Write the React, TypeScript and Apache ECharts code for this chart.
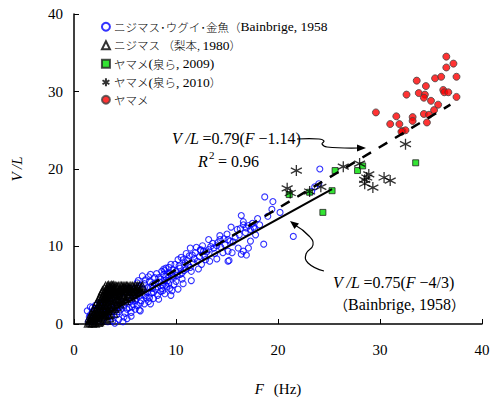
import React, { useEffect, useRef } from "react";
import * as echarts from "echarts";

const xTicks = [0, 10, 20, 30, 40];
const yTicks = [0, 10, 20, 30, 40];

const legendNames = [
  "ニジマス･ウグイ･金魚（Bainbrige, 1958",
  "ニジマス （梨本, 1980）",
  "ヤマメ(泉ら, 2009)",
  "ヤマメ(泉ら, 2010）",
  "ヤマメ",
];
const legendRich = [
  "{c|ニジマス･ウグイ･金魚（}{l|Bainbrige, 1958}",
  "{c|ニジマス （梨本, }{l|1980}{c|）}",
  "{c|ヤマメ}{l|(}{c|泉ら}{l|, 2009)}",
  "{c|ヤマメ}{l|(}{c|泉ら}{l|, 2010}{c|）}",
  "{c|ヤマメ}",
];

const bainbrige: number[][] = [
  [1.3, 1.7], [1.5, 0.9], [1.4, 0.3], [1.6, 1.2], [1.7, 0.5], [1.8, 1.6], [1.9, 0.8], [2.0, 1.9], [2.0, 0.3], [1.6, 2.2],
  [2.1, 1.2], [2.2, 0.6], [2.3, 2.0], [2.4, 1.5], [2.5, 0.9], [2.6, 2.4], [2.7, 1.8], [2.8, 0.4], [2.9, 1.2], [2.5, 2.8], [2.2, 1.9], [2.8, 2.6], [3.0, 0.8],
  [3.1, 1.9], [3.2, 2.6], [3.3, 0.3], [3.4, 1.4], [3.5, 3.1], [3.6, 2.2], [3.7, 0.9], [3.8, 1.7], [3.9, 2.8], [4.0, 0.1], [3.3, 3.3], [3.6, 1.1], [3.9, 3.5], [3.2, 1.0], [3.8, 0.4],
  [4.1, 2.3], [4.2, 1.2], [4.3, 3.0], [4.4, 0.6], [4.5, 3.7], [4.6, 1.9], [4.7, 2.6], [4.8, 0.3], [4.9, 3.3], [5.0, 1.4], [4.2, 3.9], [4.5, 2.2], [4.7, 4.1], [4.9, 0.9], [4.4, 1.6],
  [5.1, 2.8], [5.2, 0.7], [5.3, 3.6], [5.4, 2.1], [5.5, 4.3], [5.6, 1.5], [5.7, 3.1], [5.8, 2.5], [5.9, 4.0], [6.0, 1.9], [5.3, 4.6], [5.5, 2.9], [5.8, 3.6], [6.0, 4.6], [5.6, 1.0],
  [6.1, 3.3], [6.2, 2.4], [6.3, 4.2], [6.4, 1.8], [6.5, 5.0], [6.6, 3.0], [6.7, 6.2], [6.8, 3.8], [6.9, 2.6], [7.0, 5.7], [6.2, 5.3], [6.5, 1.7], [6.7, 4.5], [6.9, 5.2], [6.4, 3.6],
  [7.1, 3.4], [7.2, 4.7], [7.3, 2.9], [7.4, 5.5], [7.5, 6.4], [7.5, 2.6], [7.6, 4.0], [7.7, 5.1], [7.8, 3.3], [7.9, 6.0], [8.0, 4.5], [7.3, 6.1], [7.8, 4.1], [7.5, 4.7],
  [8.1, 6.5], [8.2, 3.7], [8.3, 6.0], [8.4, 5.4], [8.5, 4.2], [8.6, 6.8], [8.7, 5.0], [8.8, 7.1], [8.9, 3.9], [9.0, 6.1], [8.3, 3.2], [8.6, 4.6], [8.9, 5.6], [8.8, 6.4],
  [9.1, 4.8], [9.2, 5.6], [9.3, 7.3], [9.4, 6.6], [9.5, 3.7], [9.5, 7.7], [9.6, 4.3], [9.7, 6.2], [9.8, 5.1], [9.9, 7.7], [10.0, 6.8], [9.3, 5.2], [9.7, 7.0], [10.0, 5.5],
  [10.2, 4.5], [10.6, 5.8], [10.7, 5.2], [11.0, 9.1], [10.7, 8.3], [8.9, 6.9], [11.5, 6.8], [11.5, 5.6], [10.4, 6.4],
  [11.0, 7.1], [12.2, 7.1], [11.7, 7.9], [12.8, 8.8], [14.6, 9.2], [15.3, 10.7],
  [12.4, 9.5], [13.7, 9.8], [14.0, 8.4], [13.3, 8.1], [12.5, 7.7], [13.2, 10.9], [14.1, 10.5], [15.1, 9.4], [15.2, 8.2], [16.1, 9.8], [16.6, 9.4], [16.9, 8.9],
  [15.4, 12.5], [16.3, 12.3], [16.9, 12.4], [17.1, 12.7], [16.6, 12.8], [16.4, 14.0], [16.6, 13.2], [17.7, 12.3], [17.3, 10.7], [17.1, 9.8], [16.4, 9.0],
  [15.1, 10.9], [15.5, 9.2], [14.3, 10.9], [12.4, 9.6], [11.4, 9.8], [15.1, 8.1],
  [10.3, 7.5], [10.5, 8.6], [10.8, 6.9], [11.2, 7.6], [11.3, 8.8], [11.8, 8.4], [12.0, 9.9], [12.6, 10.1], [13.0, 9.3], [13.6, 10.4], [14.3, 11.4], [14.8, 10.2], [15.8, 11.2], [16.0, 12.2], [17.5, 13.0], [18.2, 12.8], [17.8, 11.5],
  [18.7, 16.4], [19.5, 15.8], [19.4, 14.8], [20.2, 14.4], [21.5, 11.3], [18.6, 10.3],
  [24.1, 20.0], [24.0, 18.1], [23.6, 17.7], [23.3, 17.1],
  [2.3, 0.9], [2.6, 1.4], [3.0, 1.4], [3.4, 2.0], [3.7, 2.6], [4.0, 1.6], [4.3, 2.1], [4.6, 2.9], [4.9, 2.3], [5.2, 1.9], [5.4, 3.3], [5.7, 2.2],
  [6.0, 3.0], [6.2, 3.8], [6.5, 2.7], [6.8, 4.5], [7.0, 3.7], [7.2, 4.1], [7.4, 3.4], [7.7, 4.6], [8.0, 5.3], [8.2, 4.8], [8.5, 5.8], [8.7, 4.3],
  [9.0, 5.0], [9.2, 6.4], [9.4, 4.6], [9.8, 6.0], [10.1, 6.3], [10.4, 7.2], [10.6, 6.6], [10.9, 7.9], [11.1, 8.2], [11.4, 7.3], [11.6, 8.9], [11.9, 9.2],
  [12.1, 8.1], [12.3, 8.7], [12.7, 9.4], [12.9, 8.3], [13.2, 9.6], [13.4, 10.0], [13.8, 9.1], [14.0, 10.1], [14.4, 9.9], [14.7, 11.0], [15.0, 11.6],
  [15.6, 10.6], [16.2, 11.5], [16.8, 11.8], [17.3, 12.2], [17.6, 12.5], [18.0, 13.6], [19.0, 13.9], [9.0, 7.2], [10.2, 8.3], [6.3, 5.6], [5.6, 4.6],
  [4.0, 3.8], [3.5, 3.6], [2.9, 2.9], [2.1, 2.4], [1.8, 2.1],
];

const nashimoto: number[][] = [
  [1.4, 0.1], [1.5, 0.4], [1.6, 0.2], [1.7, 0.7], [1.8, 0.4], [1.8, 1.0], [1.9, 0.2], [2.0, 1.3], [2.0, 0.6], [2.1, 1.7], [2.1, 0.9], [2.2, 0.4], [2.2, 1.4],
  [2.3, 2.0], [2.3, 1.0], [2.4, 2.5], [2.4, 1.6], [2.4, 0.8], [2.5, 2.2], [2.5, 1.3], [2.6, 2.9], [2.6, 1.9], [2.6, 0.9], [2.7, 3.2], [2.7, 2.4], [2.7, 1.4],
  [2.8, 3.5], [2.8, 2.7], [2.8, 1.8], [2.9, 3.9], [2.9, 3.0], [2.9, 2.1], [2.9, 1.2], [3.0, 4.1], [3.0, 3.3], [3.0, 2.5], [3.0, 1.6], [3.1, 3.7], [3.1, 2.9],
  [3.1, 2.0], [3.2, 4.4], [3.2, 3.5], [3.2, 2.4], [3.3, 4.0], [3.3, 3.1], [3.3, 1.8], [3.4, 4.7], [3.4, 3.8], [3.4, 2.7], [3.5, 4.3], [3.5, 3.4], [3.5, 2.2],
  [3.6, 4.9], [3.6, 4.0], [3.6, 3.0], [3.7, 4.6], [3.7, 3.6], [3.7, 2.5], [3.8, 4.9], [3.8, 4.2], [3.8, 3.2], [3.9, 4.6], [3.9, 3.8], [3.9, 2.7],
  [4.1, 4.9], [4.0, 4.4], [4.0, 3.4], [4.1, 4.0], [4.2, 4.5], [4.2, 3.3], [4.3, 4.8], [4.3, 3.9], [4.6, 4.9], [4.4, 4.3], [4.5, 3.7], [4.6, 4.4],
  [4.7, 4.6], [4.7, 3.9], [5.2, 4.9], [4.8, 4.3], [4.9, 4.7], [5.0, 4.1], [5.1, 4.6], [5.3, 4.4], [5.7, 4.9], [5.4, 3.9], [5.5, 4.6], [5.7, 4.3],
  [6.2, 4.9], [5.9, 4.6], [6.1, 4.5], [6.7, 4.9], [5.6, 3.5], [5.0, 3.0], [4.5, 2.6], [4.0, 2.0], [3.5, 1.2], [3.0, 0.7], [2.5, 0.3], [3.3, 4.9],
  [1.5, 0.8], [1.7, 1.3], [1.9, 1.6], [2.0, 2.1], [2.2, 2.6], [2.3, 2.9], [2.5, 3.3], [2.6, 3.6], [2.7, 4.0], [2.8, 4.3], [3.0, 4.6], [3.1, 4.9],
  [3.3, 4.5], [3.4, 5.0], [3.5, 4.7], [3.6, 4.4], [3.7, 5.0], [3.9, 5.0], [4.0, 4.7], [4.2, 4.8], [4.4, 4.9], [4.5, 4.4], [4.7, 4.9], [4.8, 4.6],
  [4.9, 4.9], [5.0, 4.5], [5.1, 4.9], [5.2, 4.3], [5.3, 4.8], [5.4, 4.6], [5.5, 4.9], [5.6, 4.2], [5.8, 4.8], [5.9, 4.2], [6.0, 4.9], [6.1, 4.1],
  [6.3, 4.6], [6.4, 4.9], [6.5, 4.4], [6.6, 4.7], [5.8, 3.8], [5.3, 3.6], [4.9, 3.5], [4.6, 3.2], [4.3, 2.9], [4.1, 3.0], [3.8, 2.2], [3.6, 1.8],
  [3.3, 1.3], [3.1, 1.1], [2.8, 0.9], [2.6, 0.5], [2.4, 0.2], [2.1, 0.1], [1.8, 0.1], [3.2, 0.5], [3.5, 0.8], [3.9, 1.4], [4.2, 2.2], [4.4, 3.2],
  [4.8, 3.8], [5.1, 3.3], [5.5, 3.9], [6.0, 4.0], [6.3, 4.2], [4.6, 4.1], [3.9, 4.3], [3.5, 3.9], [3.2, 3.9], [3.0, 3.6], [2.6, 2.6], [2.3, 1.6],
  [2.0, 0.9], [1.7, 0.9], [1.9, 1.2],
];

const izumi2009: number[][] = [
  [21.1, 16.7], [23.1, 17.0], [25.3, 17.2], [24.4, 14.4], [25.6, 19.8], [27.8, 19.8], [28.3, 20.4], [33.5, 20.8],
];

const izumi2010: number[][] = [
  [20.9, 17.5], [21.8, 19.8], [21.2, 16.9], [23.1, 17.1], [24.2, 17.7], [26.4, 20.3], [28.0, 20.7], [28.9, 19.3], [28.7, 18.9],
  [28.5, 18.6], [28.5, 18.1], [29.3, 17.6], [30.4, 18.9], [31.0, 18.5], [32.5, 23.2],
];

const yamame: number[][] = [
  [36.5, 34.5], [37.2, 33.6], [36.5, 33.1], [33.6, 31.4], [35.4, 31.7], [36.0, 31.9], [37.5, 31.9], [34.5, 30.7], [32.6, 29.6],
  [33.8, 29.8], [34.4, 29.6], [34.3, 29.2], [36.2, 30.2], [36.3, 29.9], [36.7, 29.9], [37.5, 29.3], [35.0, 28.8], [35.7, 28.3],
  [35.3, 27.6], [29.6, 27.3], [31.6, 26.8], [33.2, 26.7], [33.2, 26.2], [34.3, 27.1], [34.8, 27.0], [34.6, 26.0], [31.0, 25.8],
  [31.9, 25.8], [32.2, 24.9], [32.5, 25.0], [32.1, 24.8],
];

const bainbrigeLine: number[][] = [[1.35, 0], [25.3, 17.4]];
const fitLine: number[][] = [[1.14, 0], [36.9, 28.3]];

const SERIF = "'Liberation Serif', 'Times New Roman', 'Noto Sans CJK JP', serif";
const CJK = "'Noto Sans CJK JP', 'Liberation Serif', serif";
const ASTER = "path://M5,0L5,10M0.7,2.5L9.3,7.5M0.7,7.5L9.3,2.5";

export default function App() {
  const ref = useRef<HTMLDivElement>(null);
  useEffect(() => {
    if (!ref.current) return;
    const chart = echarts.init(ref.current, undefined, { renderer: "svg" });
    const rich = { i: { fontStyle: "italic", fontFamily: SERIF, fontSize: 15, color: "#000" }, n: { fontFamily: SERIF, fontSize: 15, color: "#000" } };
    chart.setOption({
      animation: false,
      backgroundColor: "#fff",
      grid: { left: 74, right: 14, top: 14, bottom: 74 },
      legend: {
        orient: "vertical",
        left: 95,
        top: 15,
        itemWidth: 8,
        itemHeight: 8,
        itemGap: 5,
        data: legendNames,
        formatter: (name: string) => legendRich[legendNames.indexOf(name)],
        textStyle: {
          color: "#000",
          padding: [0, 0, 0, -1],
          rich: {
            c: { fontFamily: CJK, fontSize: 11.5, color: "#000", height: 14.5, fontWeight: 300 },
            l: { fontFamily: SERIF, fontSize: 13.5, color: "#000", height: 14.5 },
          },
        },
      },
      xAxis: {
        type: "value",
        min: 0,
        max: 40,
        interval: 10,
        name: "{i|F}   {n|(Hz)}",
        nameLocation: "middle",
        nameGap: 57,
        nameTextStyle: { rich },
        axisLine: { lineStyle: { color: "#000", width: 1.5 } },
        axisTick: { inside: true, length: 5, lineStyle: { color: "#000" } },
        axisLabel: { margin: 18, fontFamily: SERIF, fontSize: 15, color: "#000", customValues: xTicks },
        splitLine: { show: false },
      },
      yAxis: {
        type: "value",
        min: 0,
        max: 40,
        interval: 10,
        name: "{i|V /L}",
        nameLocation: "middle",
        nameGap: 50,
        nameRotate: 90,
        nameTextStyle: { rich },
        axisLine: { lineStyle: { color: "#000", width: 1.5 } },
        axisTick: { inside: true, length: 5, lineStyle: { color: "#000" } },
        axisLabel: { margin: 11, fontFamily: SERIF, fontSize: 15, color: "#000", customValues: yTicks },
        splitLine: { show: false },
      },
      series: [
        {
          name: legendNames[0],
          type: "scatter",
          data: bainbrige,
          symbol: "circle",
          symbolSize: 6,
          z: 3,
          itemStyle: { color: "rgba(255,255,255,0)", borderColor: "#0000ff", borderWidth: 1.1 },
        },
        {
          name: legendNames[1],
          type: "scatter",
          data: nashimoto,
          symbol: "triangle",
          symbolSize: 8,
          z: 4,
          itemStyle: { color: "rgba(255,255,255,0)", borderColor: "#000", borderWidth: 1.2 },
        },
        {
          name: legendNames[2],
          type: "scatter",
          data: izumi2009,
          symbol: "rect",
          symbolSize: 6,
          z: 4,
          itemStyle: { color: "#00dd00", borderColor: "#222", borderWidth: 1 },
        },
        {
          name: legendNames[3],
          type: "scatter",
          data: izumi2010,
          symbol: ASTER,
          symbolSize: 11,
          z: 5,
          itemStyle: { color: "none", borderColor: "#000", borderWidth: 1.3 },
        },
        {
          name: legendNames[4],
          type: "scatter",
          data: yamame,
          symbol: "circle",
          symbolSize: 7,
          z: 4,
          itemStyle: { color: "#ff0000", borderColor: "#444", borderWidth: 1 },
        },
        {
          type: "line",
          data: bainbrigeLine,
          symbol: "none",
          z: 6,
          lineStyle: { color: "#000", width: 2 },
        },
        {
          type: "line",
          data: fitLine,
          symbol: "none",
          z: 6,
          lineStyle: { color: "#000", width: 2.5, type: [10, 9] },
        },
      ],
      graphic: [
        {
          type: "text",
          x: 172,
          y: 138,
          style: {
            text: "{i|V /L} {n|=0.79(}{i|F}{n| −1.14)}",
            rich: { i: { ...rich.i, fontSize: 16 }, n: { ...rich.n, fontSize: 16 } },
            verticalAlign: "middle",
          },
        },
        { type: "text", x: 198, y: 161, style: { text: "R", font: `italic 16px ${SERIF}`, fill: "#000", verticalAlign: "middle" } },
        { type: "text", x: 209, y: 155, style: { text: "2", font: `11px ${SERIF}`, fill: "#000", verticalAlign: "middle" } },
        { type: "text", x: 218, y: 161, style: { text: "= 0.96", font: `16px ${SERIF}`, fill: "#000", verticalAlign: "middle" } },
        {
          type: "text",
          x: 333,
          y: 282,
          style: {
            text: "{i|V /L} {n|=0.75(}{i|F}{n| −4/3)}",
            rich: { i: { ...rich.i, fontSize: 16 }, n: { ...rich.n, fontSize: 16 } },
            verticalAlign: "middle",
          },
        },
        {
          type: "text",
          x: 334,
          y: 304,
          style: {
            text: "{c|（}{l|Bainbrige, 1958}{c|）}",
            rich: {
              c: { fontFamily: CJK, fontSize: 14, fill: "#000" },
              l: { fontFamily: SERIF, fontSize: 16, fill: "#000" },
            },
            verticalAlign: "middle",
          },
        },
        {
          type: "polyline",
          shape: { points: [[297, 139], [319, 139], [324, 141], [322, 144], [327, 147], [359, 148]], smooth: 0.4 },
          style: { stroke: "#000", lineWidth: 1.2, fill: "none" },
        },
        { type: "polygon", shape: { points: [[366, 148], [357, 144.5], [357, 151.5]] }, style: { fill: "#000" } },
        {
          type: "polyline",
          shape: { points: [[324, 271], [308, 263], [306, 254], [313, 245], [309, 236], [295, 225]], smooth: 0.5 },
          style: { stroke: "#000", lineWidth: 1.2, fill: "none" },
        },
        { type: "polygon", shape: { points: [[290, 221], [299, 223.5], [294.5, 229]] }, style: { fill: "#000" } },
      ],
    });
    return () => chart.dispose();
  }, []);
  return <div ref={ref} style={{ width: 496, height: 401, position: "absolute", left: 0, top: 0 }} />;
}
